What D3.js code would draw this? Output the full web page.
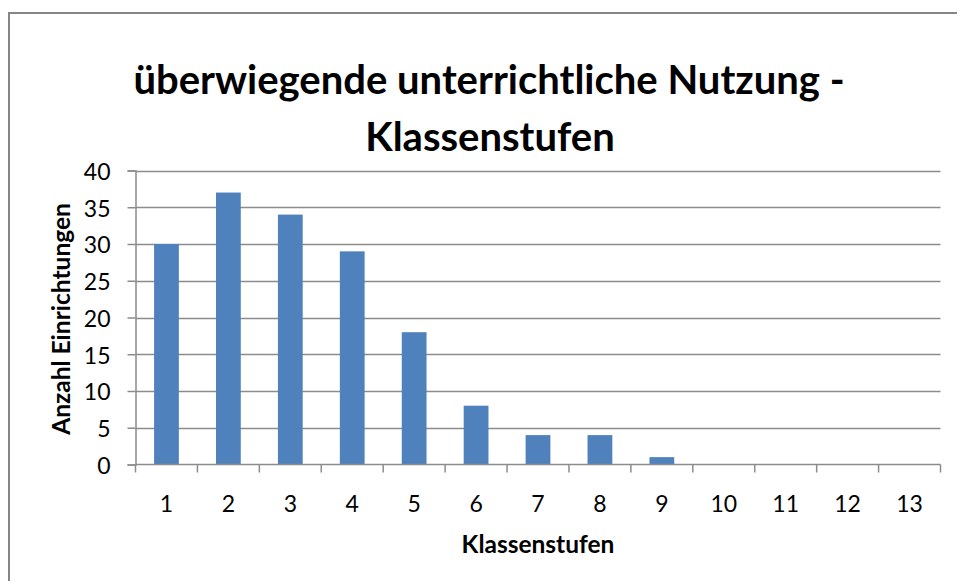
<!DOCTYPE html>
<html>
<head>
<meta charset="utf-8">
<script src="https://cdn.jsdelivr.net/npm/d3@7"></script>
<style>
  html, body { margin: 0; padding: 0; background: #fff; }
  svg { display: block; }
  text { font-family: Lato, "Open Sans", sans-serif; fill: #000; }
</style>
</head>
<body>
<svg id="chart" width="957" height="581"></svg>
<script>
const categories = ["1","2","3","4","5","6","7","8","9","10","11","12","13"];
const values = [30, 37, 34, 29, 18, 8, 4, 4, 1, 0, 0, 0, 0];
const yTicks = [0, 5, 10, 15, 20, 25, 30, 35, 40];
const titleLines = ["überwiegende unterrichtliche Nutzung -", "Klassenstufen"];
const xTitle = "Klassenstufen";
const yTitle = "Anzahl Einrichtungen";

const svg = d3.select("#chart");
const W = 957, H = 581;
const plot = { left: 135.5, right: 940.5, top: 170.5, bottom: 464.5 };

// outer frame
svg.append("rect")
  .attr("x", 9).attr("y", 13)
  .attr("width", W + 10).attr("height", H + 10)
  .attr("fill", "#fff").attr("stroke", "#868686").attr("stroke-width", 2);

const x = d3.scaleBand().domain(categories)
  .range([plot.left, plot.right]).paddingInner(0.6).paddingOuter(0.3);
const xTicksScale = d3.scaleBand().domain(categories).range([plot.left, plot.right]);
const y = d3.scaleLinear().domain([0, 40]).range([plot.bottom, plot.top]);

// gridlines
svg.append("g").selectAll("line").data(yTicks.filter(d => d > 0)).join("line")
  .attr("x1", plot.left).attr("x2", plot.right)
  .attr("y1", d => Math.round(y(d)) + 0.5).attr("y2", d => Math.round(y(d)) + 0.5)
  .attr("stroke", "#8c8c8c").attr("stroke-width", 1.5);

// bars
svg.append("g").selectAll("rect").data(values).join("rect")
  .attr("x", (d, i) => x(categories[i]))
  .attr("width", x.bandwidth())
  .attr("y", d => y(d))
  .attr("height", d => plot.bottom - y(d))
  .attr("fill", "#4F81BD");

// y axis
const yAxis = d3.axisLeft(y).tickValues(yTicks).tickSize(8).tickPadding(17);
const gy = svg.append("g").attr("transform", `translate(${plot.left},0)`).call(yAxis);
gy.select(".domain").attr("stroke", "#8c8c8c").attr("stroke-width", 1.5);
gy.selectAll(".tick line").attr("stroke", "#8c8c8c").attr("stroke-width", 1.5);
gy.selectAll(".tick text").attr("font-size", 23).attr("font-family", "Lato").attr("fill", "#000").attr("dy", "0.38em");

// x axis
const xAxis = d3.axisBottom(xTicksScale).tickSize(0).tickPadding(31);
const gx = svg.append("g").attr("transform", `translate(0,${plot.bottom})`).call(xAxis);
gx.select(".domain").attr("stroke", "#8c8c8c").attr("stroke-width", 1.5).attr("d", `M${plot.left},0H${plot.right}`);
gx.selectAll(".tick text").attr("font-size", 23).attr("font-family", "Lato").attr("fill", "#000");
// category boundary tick marks
svg.append("g").selectAll("line")
  .data(categories.concat(["end"]))
  .join("line")
  .attr("x1", (d, i) => i < categories.length ? xTicksScale(d) : plot.right)
  .attr("x2", (d, i) => i < categories.length ? xTicksScale(d) : plot.right)
  .attr("y1", plot.bottom).attr("y2", plot.bottom + 8)
  .attr("stroke", "#8c8c8c").attr("stroke-width", 1.5);

// title
svg.append("text").attr("x", 489).attr("y", 94)
  .attr("text-anchor", "middle").attr("font-size", 40).attr("font-weight", "bold")
  .text(titleLines[0]);
svg.append("text").attr("x", 490).attr("y", 151)
  .attr("text-anchor", "middle").attr("font-size", 40).attr("font-weight", "bold")
  .text(titleLines[1]);

// axis titles
svg.append("text").attr("x", 538).attr("y", 553)
  .attr("text-anchor", "middle").attr("font-size", 24.5).attr("font-weight", "bold")
  .text(xTitle);
svg.append("text").attr("transform", "translate(70,319) rotate(-90)")
  .attr("text-anchor", "middle").attr("font-size", 24.5).attr("font-weight", "bold")
  .text(yTitle);
</script>
</body>
</html>
